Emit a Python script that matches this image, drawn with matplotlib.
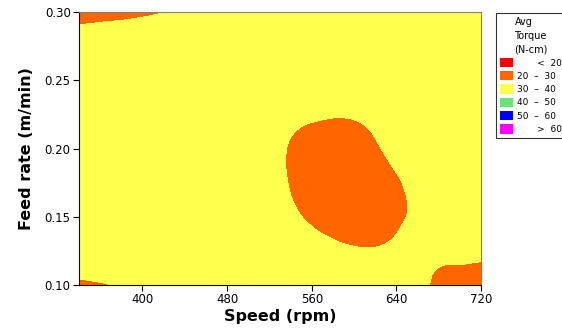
import numpy as np
import matplotlib
matplotlib.use("Agg")
import matplotlib.pyplot as plt
import matplotlib.tri as mtri
from matplotlib.patches import Patch

# grid (speed in rpm, feed in m/min, avg torque in N-cm)
speed = [340, 380, 420, 460, 500, 540, 580, 620, 660, 680, 700, 720]
feed = [0.100, 0.125, 0.150, 0.175, 0.200, 0.225, 0.250, 0.275, 0.300]
torque = [
    [29.5, 30.3, 32.0, 33.0, 33.0, 33.0, 33.0, 33.0, 33.0, 27.0, 22.0, 22.0],  # 0.100
    [32.0, 32.5, 33.0, 33.0, 33.0, 33.0, 31.5, 30.4, 31.6, 32.0, 33.0, 32.5],  # 0.125
    [33.0, 33.0, 33.0, 33.0, 33.0, 31.0, 27.0, 26.5, 31.3, 32.5, 33.0, 33.0],  # 0.150
    [33.0, 33.0, 33.0, 33.0, 33.0, 29.7, 26.0, 26.5, 31.8, 32.5, 33.0, 33.0],  # 0.175
    [33.0, 33.0, 33.0, 33.0, 33.0, 29.6, 27.0, 29.3, 33.0, 33.0, 33.0, 33.0],  # 0.200
    [33.0, 33.0, 33.0, 33.0, 33.0, 31.5, 30.4, 31.2, 33.0, 33.0, 33.0, 33.0],  # 0.225
    [33.0, 33.0, 33.0, 33.0, 33.0, 33.0, 33.0, 33.0, 33.0, 33.0, 33.0, 33.0],  # 0.250
    [31.5, 31.5, 32.0, 33.0, 33.0, 33.0, 33.0, 33.0, 33.0, 33.0, 33.0, 33.0],  # 0.275
    [29.0, 29.5, 29.95, 31.0, 32.0, 33.0, 33.0, 33.0, 33.0, 33.0, 33.0, 33.0],  # 0.300
]

levels = [0, 20, 30, 40, 50, 60, 100]
colors = ["#FF0000", "#FF6600", "#FFFF4D", "#6BE27A", "#0000FF", "#FF00FF"]
labels = ["       <  20", "20  \u2013  30", "30  \u2013  40",
          "40  \u2013  50", "50  \u2013  60", "       >  60"]

fig = plt.figure(figsize=(5.62, 3.28), dpi=100)
ax = fig.add_axes([0.1406, 0.1311, 0.7153, 0.8323])

S, F = np.meshgrid(speed, feed)
Z = np.array(torque)
# scale feed so the triangulation is not squashed
tri = mtri.Triangulation(S.ravel(), F.ravel() * 2000)
refiner = mtri.UniformTriRefiner(tri)
tri_f, z_f = refiner.refine_field(Z.ravel(), subdiv=4)
tri_f = mtri.Triangulation(tri_f.x, tri_f.y / 2000, tri_f.triangles)
ax.tricontourf(tri_f, z_f, levels=levels, colors=colors)

ax.set_xlim(340, 720)
ax.set_ylim(0.10, 0.30)
ax.set_xticks([400, 480, 560, 640, 720])
ax.set_yticks([0.10, 0.15, 0.20, 0.25, 0.30])
ax.set_yticklabels(["0.10", "0.15", "0.20", "0.25", "0.30"])
ax.tick_params(labelsize=8.5, length=4, width=0.8, pad=2)
ax.set_xlabel("Speed (rpm)", fontsize=11.5, fontweight="bold", labelpad=2)
ax.set_ylabel("Feed rate (m/min)", fontsize=11.5, fontweight="bold", labelpad=8)
for side in ["top", "right"]:
    ax.spines[side].set_color("#808080")
for side in ["left", "bottom"]:
    ax.spines[side].set_color("black")

handles = [Patch(facecolor=c, edgecolor="none") for c in colors]
leg = fig.legend(handles, labels, title="Avg\nTorque\n(N-cm)",
                 loc="upper left", bbox_to_anchor=(496 / 562, 1 - 13 / 328),
                 fontsize=6.5, title_fontsize=7, frameon=True, fancybox=False,
                 edgecolor="black", handlelength=1.4, handleheight=1.2,
                 handletextpad=0.5, labelspacing=0.4, borderpad=0.45,
                 borderaxespad=0)
leg.get_frame().set_linewidth(0.8)
leg.get_title().set_linespacing(1.45)

fig.savefig("out.png", dpi=100)
